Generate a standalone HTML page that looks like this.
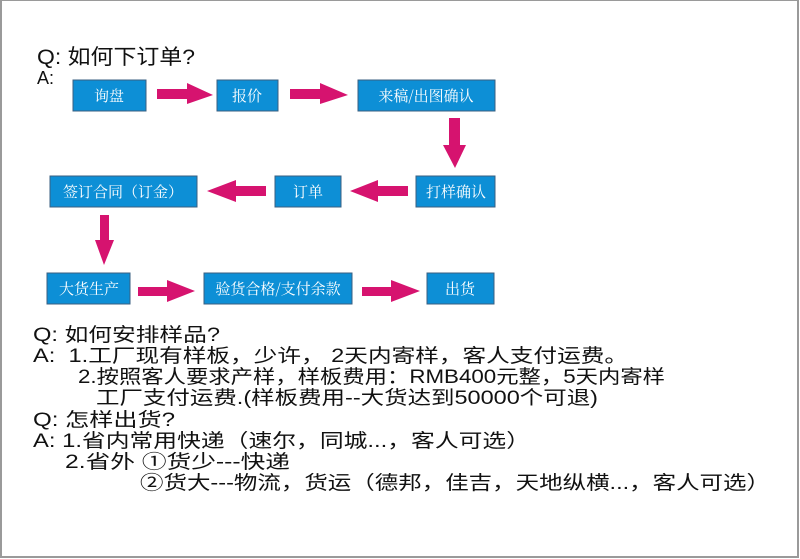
<!DOCTYPE html>
<html><head><meta charset="utf-8"><style>
html,body{margin:0;padding:0;background:#fff}
svg{display:block}
.b{fill:#0d8fd6;stroke:#3a5f80;stroke-width:1}
.bt{fill:#fff;font-family:"Noto Serif CJK SC","Noto Sans CJK SC",serif;font-size:15px;text-anchor:middle}
.t{fill:#111;font-family:"Liberation Sans","Noto Sans CJK SC",sans-serif;font-size:19px}
.a{fill:#d6136f}
</style></head><body>
<svg width="800" height="559" viewBox="0 0 800 559" xmlns="http://www.w3.org/2000/svg">
<rect x="1" y="0" width="797" height="557" fill="#fff" stroke="#9a9a9a" stroke-width="2"/>
<text class="t" x="37" y="64" textLength="158" lengthAdjust="spacingAndGlyphs" style="font-size:21px">Q: 如何下订单?</text>
<text class="t" x="37" y="84" style="font-size:18px">A:</text>
<!-- boxes -->
<rect class="b" x="73" y="80" width="73" height="31"/><text class="bt" x="109" y="101">询盘</text>
<rect class="b" x="217" y="80" width="61" height="31"/><text class="bt" x="247" y="101">报价</text>
<rect class="b" x="358" y="80" width="137" height="31"/><text class="bt" x="426" y="101">来稿/出图确认</text>
<rect class="b" x="416" y="176" width="79" height="31"/><text class="bt" x="456" y="197">打样确认</text>
<rect class="b" x="275" y="176" width="66" height="31"/><text class="bt" x="308" y="197">订单</text>
<rect class="b" x="50" y="176" width="147" height="31"/><text class="bt" x="123" y="197">签订合同（订金）</text>
<rect class="b" x="47" y="273" width="83" height="31"/><text class="bt" x="89" y="294">大货生产</text>
<rect class="b" x="204" y="273" width="148" height="31"/><text class="bt" x="278" y="294">验货合格/支付余款</text>
<rect class="b" x="427" y="273" width="67" height="31"/><text class="bt" x="460" y="294">出货</text>
<!-- arrows -->
<polygon class="a" points="157,89 187,89 187,83 213,95 187,104 187,99 157,99"/>
<polygon class="a" points="290,89 320,89 320,83 348,95 320,104 320,99 290,99"/>
<polygon class="a" points="449,118 460,118 460,145 466,145 455,168 443,145 449,145"/>
<polygon class="a" points="408,186 378,186 378,180 350,191 378,202 378,196 408,196"/>
<polygon class="a" points="266,186 236,186 236,180 207,191 236,202 236,196 266,196"/>
<polygon class="a" points="100,215 109,215 109,240 114,240 104,265 95,240 100,240"/>
<polygon class="a" points="138,287 167,287 167,280 195,291 167,302 167,296 138,296"/>
<polygon class="a" points="362,287 391,287 391,280 420,291 391,302 391,296 362,296"/>
<!-- text -->
<text class="t" x="33" y="341" textLength="187" lengthAdjust="spacingAndGlyphs">Q: 如何安排样品?</text>
<text class="t" x="33" y="362" textLength="595" lengthAdjust="spacingAndGlyphs">A:&#160;&#160;1.工厂现有样板，少许， 2天内寄样，客人支付运费。</text>
<text class="t" x="78" y="383" textLength="587" lengthAdjust="spacingAndGlyphs">2.按照客人要求产样，样板费用：RMB400元整，5天内寄样</text>
<text class="t" x="96" y="404" textLength="502" lengthAdjust="spacingAndGlyphs">工厂支付运费.(样板费用--大货达到50000个可退)</text>
<text class="t" x="33" y="426" textLength="142" lengthAdjust="spacingAndGlyphs">Q: 怎样出货?</text>
<text class="t" x="33" y="447" textLength="497" lengthAdjust="spacingAndGlyphs">A: 1.省内常用快递（速尔，同城...，客人可选）</text>
<text class="t" x="65" y="468" textLength="225" lengthAdjust="spacingAndGlyphs">2.省外 ①货少---快递</text>
<text class="t" x="140" y="489" textLength="630" lengthAdjust="spacingAndGlyphs">②货大---物流，货运（德邦，佳吉，天地纵横...，客人可选）</text>
</svg>
</body></html>
